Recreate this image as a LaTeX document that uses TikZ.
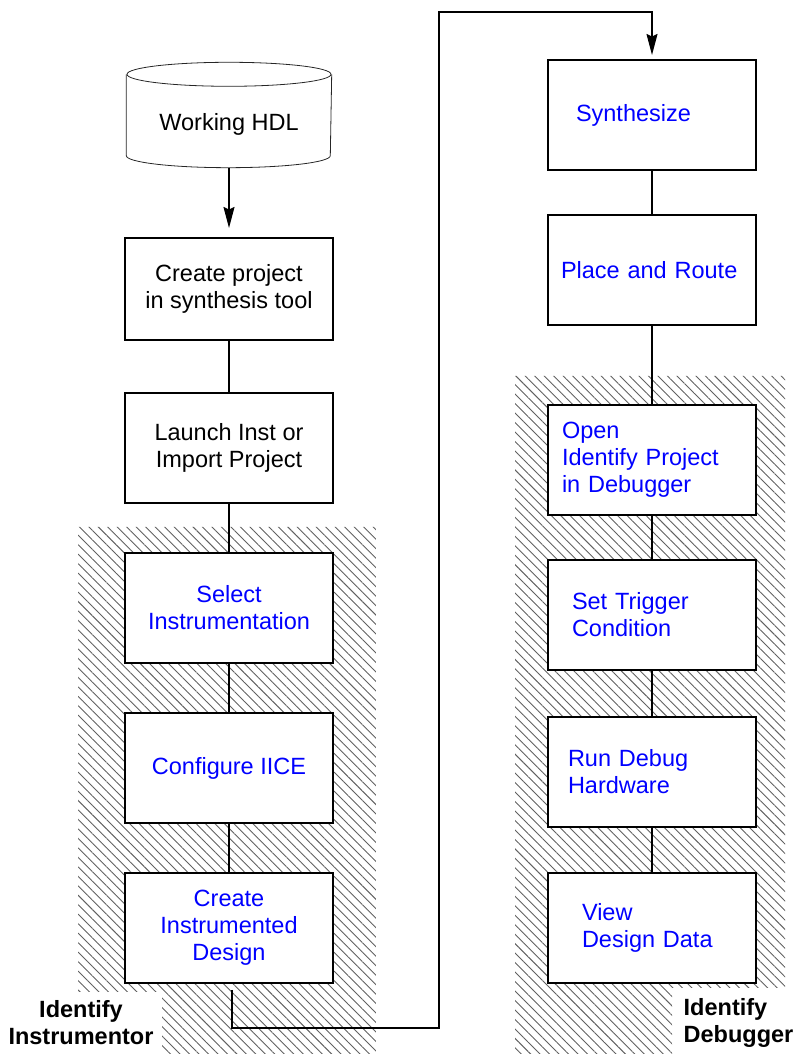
\documentclass[tikz,border=0pt]{standalone}
\usepackage{fontspec}
\setmainfont{Liberation Sans}
\usetikzlibrary{arrows.meta,positioning,patterns.meta}

\begin{document}
\begin{tikzpicture}[x=1pt,y=1pt,
        every node/.style={font=\fontsize{23.5pt}{27pt}\selectfont, inner sep=0pt},
        box/.style={draw, line width=1.6pt, outer sep=0pt, fill=white, minimum width=208pt, minimum height=110pt, align=center},
        tool/.style={box, text=blue},
        dbg/.style={tool, align=left},
        tag/.style={font=\bfseries\fontsize{23.5pt}{27pt}\selectfont},
        hatch/.style={pattern={Lines[angle=-45,distance=6.7pt,line width=0.9pt]}, pattern color=black!62},
        cyl/.style={draw=black!85, line width=0.8pt},
        line width=1.4pt, >={Stealth[length=21pt,width=11pt,inset=2.5pt]},
        node distance=50pt
      ]
      \useasboundingbox (0,0) rectangle (798,1054);
      % hatched tool areas
      \fill [hatch] (78,527) -- (376,527) -- (376,0) -- (162,0) -- (162,62) -- (78,62) -- cycle;
      \fill [hatch] (515,678) -- (785,678) -- (785,66) -- (672,66) -- (672,0) -- (515,0) -- cycle;
      % working HDL
      \node [] (0) [minimum width=204pt, minimum height=104pt] at (229,939) {\raisebox{-9pt}[\height][\depth]{Working HDL}};
      \draw [cyl] ([yshift=-12pt]0.north) ellipse [x radius=102pt, y radius=12pt];
      \draw [cyl] ([yshift=-12pt]0.north west) -- ([yshift=12pt]0.south west)
        arc [start angle=180, end angle=360, x radius=102pt, y radius=12pt] -- ([yshift=-12pt]0.north east);
      % instrumentor column
      \node [] (1) [box, minimum height=102pt] at (229,765) {Create project\\in synthesis tool};
      \node [] (2) [box, below=53pt of 1] {Launch Inst or\\Import Project};
      \node [] (3) [tool, below=of 2] {Select\\Instrumentation};
      \node [] (4) [tool, below=of 3] {Configure IICE};
      \node [] (5) [tool, below=of 4] {Create\\Instrumented\\Design};
      % debugger column
      \node [] (6) [dbg, inner xsep=28pt, text width=152pt] at (652,939) {Synthesize};
      \node [] (7) [dbg, inner xsep=13pt, text width=182pt, below=45pt of 6] {Place and Route};
      \node [] (8) [dbg, inner xsep=14pt, text width=180pt, below=80pt of 7] {Open\\Identify Project\\in Debugger};
      \node [] (9) [dbg, inner xsep=24pt, text width=160pt, below=45pt of 8] {Set Trigger\\Condition};
      \node [] (10) [dbg, inner xsep=20pt, text width=168pt, below=47pt of 9] {Run Debug\\Hardware};
      \node [] (11) [dbg, inner xsep=34pt, text width=140pt, below=46pt of 10] {View\\Design Data};
      % labels
      \node [] (12) [tag, align=center] at (81,31) {Identify\\Instrumentor};
      \node [] (13) [tag, align=left, anchor=west] at (683,31) {Identify\\Debugger};
      \path [draw] (0) edge[->, shorten >=10pt] (1)
      (1) edge (2) (2) edge (3) (3) edge (4) (4) edge (5)
      (6) edge (7) (7) edge (8) (8) edge (9) (9) edge (10) (10) edge (11);
      \coordinate (a) at (439,26);
      \coordinate (b) at (439,1042);
      \draw [->, shorten >=5pt] ([xshift=3pt,yshift=-7pt]5.south) |- (a) -- (b) -| (6.north);
    \end{tikzpicture}
\end{document}
